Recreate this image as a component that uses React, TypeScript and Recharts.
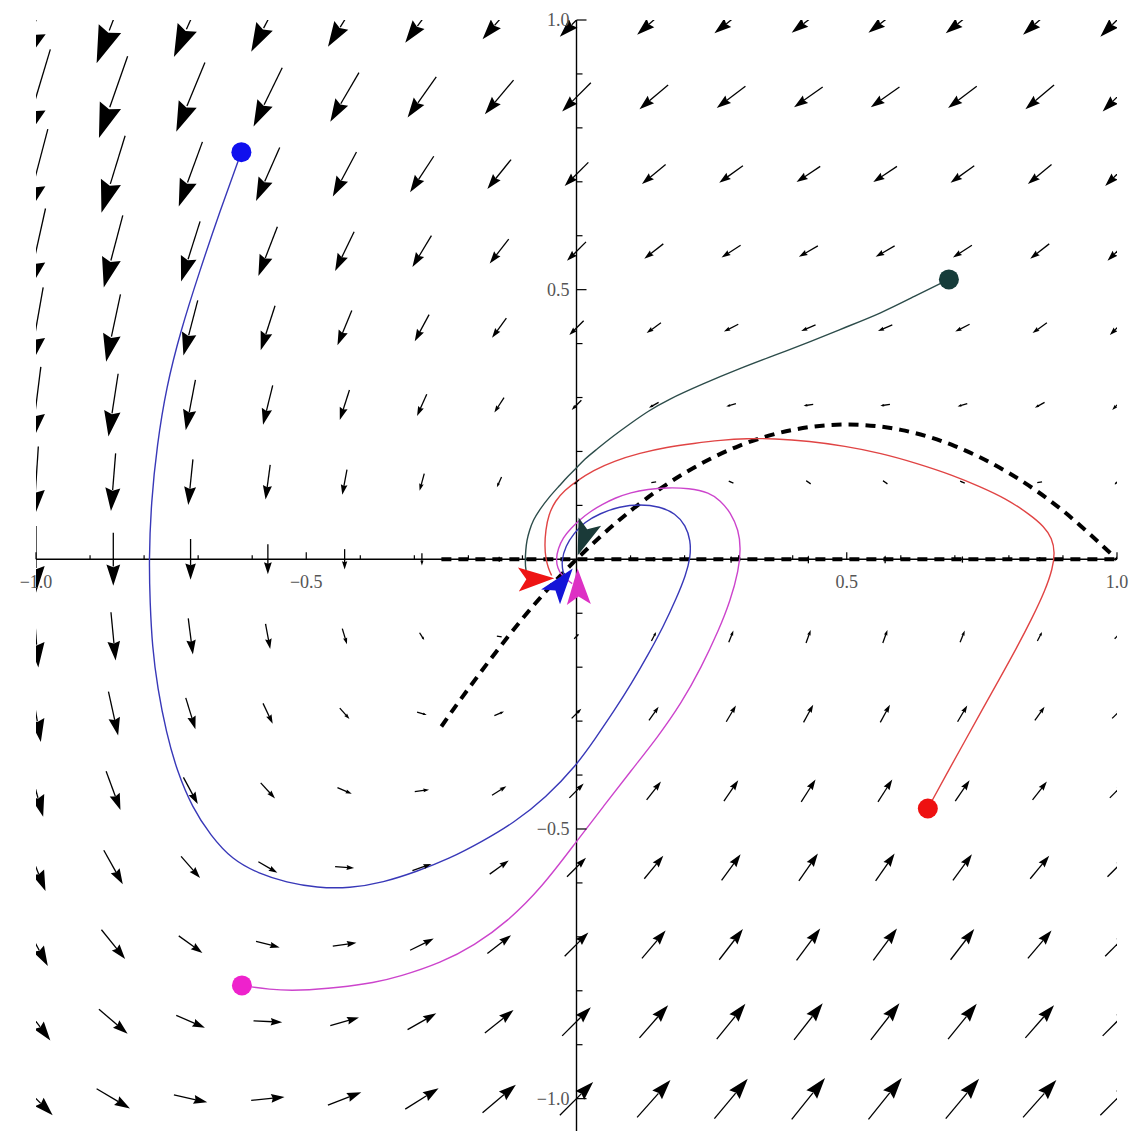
import React from 'react';
import { ComposedChart, XAxis, YAxis, Line, Scatter } from 'recharts';

// grid of sample points (both axes)
const GRID = [-1, -0.857, -0.714, -0.571, -0.429, -0.286, -0.143, 0, 0.143, 0.286, 0.429, 0.571, 0.714, 0.857, 1];

// horizontal field component, one value per row (row 0 = y=-1 ... row 14 = y=1)
const FIELD_U_BY_ROW = [1.0, 0.86, 0.71, 0.57, 0.43, 0.29, 0.14, 0, -0.14, -0.29, -0.43, -0.57, -0.71, -0.86, -1.0];

// vertical field component, rows bottom (y=-1) to top (y=1), columns x=-1..1
const FIELD_V_ROW0 = [-1.0, -0.59, -0.22, 0.1, 0.39, 0.63, 0.84, 1.0, 1.12, 1.2, 1.24, 1.24, 1.2, 1.12, 1.0];
const FIELD_V_ROW1 = [-1.14, -0.73, -0.37, -0.04, 0.24, 0.49, 0.69, 0.86, 0.98, 1.06, 1.1, 1.1, 1.06, 0.98, 0.86];
const FIELD_V_ROW2 = [-1.29, -0.88, -0.51, -0.18, 0.1, 0.35, 0.55, 0.71, 0.84, 0.92, 0.96, 0.96, 0.92, 0.84, 0.71];
const FIELD_V_ROW3 = [-1.43, -1.02, -0.65, -0.33, -0.04, 0.2, 0.41, 0.57, 0.69, 0.78, 0.82, 0.82, 0.78, 0.69, 0.57];
const FIELD_V_ROW4 = [-1.57, -1.16, -0.8, -0.47, -0.18, 0.06, 0.27, 0.43, 0.55, 0.63, 0.67, 0.67, 0.63, 0.55, 0.43];
const FIELD_V_ROW5 = [-1.71, -1.31, -0.94, -0.61, -0.33, -0.08, 0.12, 0.29, 0.41, 0.49, 0.53, 0.53, 0.49, 0.41, 0.29];
const FIELD_V_ROW6 = [-1.86, -1.45, -1.08, -0.76, -0.47, -0.22, -0.02, 0.14, 0.27, 0.35, 0.39, 0.39, 0.35, 0.27, 0.14];
const FIELD_V_ROW7 = [-2.0, -1.59, -1.22, -0.9, -0.61, -0.37, -0.16, 0.0, 0.12, 0.2, 0.24, 0.24, 0.2, 0.12, 0.0];
const FIELD_V_ROW8 = [-2.14, -1.73, -1.37, -1.04, -0.76, -0.51, -0.31, -0.14, -0.02, 0.06, 0.1, 0.1, 0.06, -0.02, -0.14];
const FIELD_V_ROW9 = [-2.29, -1.88, -1.51, -1.18, -0.9, -0.65, -0.45, -0.29, -0.16, -0.08, -0.04, -0.04, -0.08, -0.16, -0.29];
const FIELD_V_ROW10 = [-2.43, -2.02, -1.65, -1.33, -1.04, -0.8, -0.59, -0.43, -0.31, -0.22, -0.18, -0.18, -0.22, -0.31, -0.43];
const FIELD_V_ROW11 = [-2.57, -2.16, -1.8, -1.47, -1.18, -0.94, -0.73, -0.57, -0.45, -0.37, -0.33, -0.33, -0.37, -0.45, -0.57];
const FIELD_V_ROW12 = [-2.71, -2.31, -1.94, -1.61, -1.33, -1.08, -0.88, -0.71, -0.59, -0.51, -0.47, -0.47, -0.51, -0.59, -0.71];
const FIELD_V_ROW13 = [-2.86, -2.45, -2.08, -1.76, -1.47, -1.22, -1.02, -0.86, -0.73, -0.65, -0.61, -0.61, -0.65, -0.73, -0.86];
const FIELD_V_ROW14 = [-3.0, -2.59, -2.22, -1.9, -1.61, -1.37, -1.16, -1.0, -0.88, -0.8, -0.76, -0.76, -0.8, -0.88, -1.0];
const FIELD_V_ROWS = [
  FIELD_V_ROW0, FIELD_V_ROW1, FIELD_V_ROW2, FIELD_V_ROW3, FIELD_V_ROW4, FIELD_V_ROW5, FIELD_V_ROW6, FIELD_V_ROW7,
  FIELD_V_ROW8, FIELD_V_ROW9, FIELD_V_ROW10, FIELD_V_ROW11, FIELD_V_ROW12, FIELD_V_ROW13, FIELD_V_ROW14,
];

// trajectories [x, y]
const BLUE_PATH = [
  [-0.62, 0.755], [-0.66, 0.645], [-0.698, 0.532], [-0.732, 0.425], [-0.759, 0.319], [-0.776, 0.212],
  [-0.787, 0.106], [-0.791, -0.002], [-0.789, -0.08], [-0.785, -0.161], [-0.775, -0.24], [-0.759, -0.321],
  [-0.739, -0.393], [-0.711, -0.46], [-0.677, -0.512], [-0.637, -0.557], [-0.587, -0.583], [-0.537, -0.599],
  [-0.48, -0.609], [-0.42, -0.61], [-0.357, -0.599], [-0.296, -0.579], [-0.235, -0.555], [-0.174, -0.523],
  [-0.115, -0.488], [-0.057, -0.442], [0.0, -0.382], [0.035, -0.332], [0.069, -0.282], [0.102, -0.23],
  [0.133, -0.176], [0.161, -0.124], [0.185, -0.072], [0.202, -0.03], [0.211, 0.004], [0.211, 0.035],
  [0.202, 0.063], [0.183, 0.085], [0.154, 0.098], [0.117, 0.102], [0.08, 0.098], [0.043, 0.085],
  [0.015, 0.069], [-0.005, 0.048], [-0.02, 0.025], [-0.028, -0.003], [-0.025, -0.025], [-0.02, -0.035],
];
const MAGENTA_PATH = [
  [-0.619, -0.79], [-0.569, -0.798], [-0.513, -0.8], [-0.439, -0.794], [-0.374, -0.785], [-0.328, -0.774],
  [-0.25, -0.748], [-0.189, -0.716], [-0.128, -0.672], [-0.063, -0.607], [0.0, -0.523], [0.05, -0.458],
  [0.1, -0.393], [0.15, -0.33], [0.194, -0.267], [0.231, -0.2], [0.263, -0.132], [0.285, -0.076],
  [0.3, -0.02], [0.304, 0.02], [0.3, 0.054], [0.285, 0.087], [0.266, 0.109], [0.246, 0.124], [0.208, 0.132],
  [0.167, 0.133], [0.132, 0.13], [0.1, 0.124], [0.072, 0.114], [0.048, 0.102], [0.026, 0.089], [0.007, 0.074],
  [-0.01, 0.058], [-0.025, 0.04], [-0.034, 0.02], [-0.038, 0.0], [-0.035, -0.016], [-0.028, -0.03],
  [-0.008, -0.045],
];
const RED_PATH = [
  [0.65, -0.462], [0.683, -0.401], [0.717, -0.34], [0.75, -0.28], [0.783, -0.221], [0.815, -0.163],
  [0.843, -0.109], [0.867, -0.058], [0.881, -0.017], [0.885, 0.013], [0.88, 0.039], [0.865, 0.061],
  [0.839, 0.083], [0.794, 0.113], [0.746, 0.135], [0.696, 0.156], [0.63, 0.178], [0.563, 0.197], [0.496, 0.21],
  [0.431, 0.219], [0.365, 0.224], [0.315, 0.224], [0.267, 0.221], [0.217, 0.215], [0.167, 0.208], [0.117, 0.197],
  [0.069, 0.182], [0.031, 0.165], [0.0, 0.145], [-0.022, 0.128], [-0.039, 0.109], [-0.052, 0.082],
  [-0.057, 0.054], [-0.059, 0.026], [-0.057, 0.002], [-0.052, -0.017], [-0.046, -0.03],
];
const TEAL_PATH = [
  [0.689, 0.519], [0.626, 0.488], [0.563, 0.456], [0.497, 0.43], [0.431, 0.403], [0.366, 0.378], [0.3, 0.353],
  [0.233, 0.325], [0.167, 0.295], [0.133, 0.275], [0.1, 0.252], [0.067, 0.228], [0.035, 0.202], [0.015, 0.186],
  [-0.002, 0.167], [-0.017, 0.153], [-0.031, 0.137], [-0.052, 0.114], [-0.069, 0.091], [-0.08, 0.073],
  [-0.087, 0.054], [-0.092, 0.035], [-0.094, 0.017], [-0.095, -0.003], [-0.094, -0.02], [-0.09, -0.035],
];

// nullclines
const NULL_X = [-0.25, -0.2, -0.1, 0, 0.1, 0.2, 0.3, 0.4, 0.5, 0.6, 0.7, 0.8, 0.9, 1.0];
const NULL_Y = [-0.31, -0.24, -0.11, 0, 0.09, 0.16, 0.21, 0.24, 0.25, 0.24, 0.21, 0.16, 0.09, 0];
const AXIS_NULL = [[-0.25, 0], [1.0, 0]];

// arrowheads at trajectory ends: tip x, tip y, direction (degrees)
const HEADS = [
  { x: -0.041, y: -0.035, angle: 2, key: 'red' },
  { x: -0.007, y: -0.017, angle: 52, key: 'blue' },
  { x: 0.002, y: -0.017, angle: 92, key: 'magenta' },
  { x: 0.002, y: 0.007, angle: 250, key: 'teal' },
];
// starting points
const STARTS = [
  { x: -0.62, y: 0.755, key: 'blue' },
  { x: -0.619, y: -0.79, key: 'magenta' },
  { x: 0.65, y: -0.462, key: 'red' },
  { x: 0.689, y: 0.519, key: 'teal' },
];

// ticks and labels
const TICKS = [-1, -0.9, -0.8, -0.7, -0.6, -0.5, -0.4, -0.3, -0.2, -0.1, 0.1, 0.2, 0.3, 0.4, 0.5, 0.6, 0.7, 0.8, 0.9, 1];
const LABEL_VALUES = [-1, -0.5, 0.5, 1];
const LABEL_TEXT = ['\u22121.0', '\u22120.5', '0.5', '1.0'];

// ---------- styling / layout ----------
const W = 1130;
const H = 1131;
const MARGIN = { top: 20, right: 13, bottom: 0, left: 36 };
const PX_PER_UNIT = (W - MARGIN.left - MARGIN.right) / 2;
const ARROW_SCALE = 0.0617;

const COLORS: Record<string, { line: string; dot: string; head: string }> = {
  blue: { line: '#3838b8', dot: '#1010ee', head: '#1414d8' },
  magenta: { line: '#cc44cc', dot: '#ee22cc', head: '#dd30c4' },
  red: { line: '#e04444', dot: '#ee1111', head: '#ee1414' },
  teal: { line: '#2c4c4a', dot: '#163c3a', head: '#1a3a38' },
};

const toPts = (arr: number[][]) => arr.map(([x, y]) => ({ x, y }));

const fieldData: { x: number; y: number; u: number; v: number }[] = [];
FIELD_V_ROWS.forEach((row, j) => {
  row.forEach((v, k) => {
    fieldData.push({ x: GRID[k], y: GRID[j], u: FIELD_U_BY_ROW[j], v });
  });
});
const nullCurve = NULL_X.map((x, i) => ({ x, y: NULL_Y[i] }));
const xTickData = TICKS.map((x) => ({ x, y: 0, major: LABEL_VALUES.includes(x) }));
const yTickData = TICKS.map((y) => ({ x: 0, y, major: LABEL_VALUES.includes(y) }));
const xLabelData = LABEL_VALUES.map((x, i) => ({ x, y: 0, t: LABEL_TEXT[i] }));
const yLabelData = LABEL_VALUES.map((y, i) => ({ x: 0, y, t: LABEL_TEXT[i] }));

function FieldArrow(props: any) {
  const { cx, cy, payload } = props;
  if (cx == null || cy == null) return <g />;
  const k = ARROW_SCALE * PX_PER_UNIT;
  const dx = payload.u * k;
  const dy = -payload.v * k;
  const L = Math.hypot(dx, dy);
  if (L < 1) return <g />;
  const ux = dx / L;
  const uy = dy / L;
  const x1 = cx - dx / 2;
  const y1 = cy - dy / 2;
  const x2 = cx + dx / 2;
  const y2 = cy + dy / 2;
  const hl = 0.4 * L;
  const hw = 0.13 * L;
  const bx = x2 - ux * hl;
  const by = y2 - uy * hl;
  const px = -uy;
  const py = ux;
  return (
    <g>
      <line x1={x1} y1={y1} x2={bx + ux * 2} y2={by + uy * 2} stroke="#000" strokeWidth={1.3} />
      <polygon
        points={`${x2},${y2} ${bx + px * hw},${by + py * hw} ${bx + ux * hl * 0.12},${by + uy * hl * 0.12} ${bx - px * hw},${by - py * hw}`}
        fill="#000"
      />
    </g>
  );
}

function HeadShape(props: any) {
  const { cx, cy, payload } = props;
  if (cx == null) return <g />;
  const a = (payload.angle * Math.PI) / 180;
  const ux = Math.cos(a);
  const uy = -Math.sin(a);
  const len = 36;
  const hw = 12;
  const bx = cx - ux * len;
  const by = cy - uy * len;
  const px = -uy;
  const py = ux;
  const nx = bx + ux * 8;
  const ny = by + uy * 8;
  return (
    <polygon
      points={`${cx},${cy} ${bx + px * hw},${by + py * hw} ${nx},${ny} ${bx - px * hw},${by - py * hw}`}
      fill={COLORS[payload.key].head}
    />
  );
}

function DotShape(props: any) {
  const { cx, cy, payload } = props;
  if (cx == null) return <g />;
  return <circle cx={cx} cy={cy} r={10} fill={COLORS[payload.key].dot} />;
}

function XTick(props: any) {
  const { cx, cy, payload } = props;
  if (cx == null) return <g />;
  const len = payload.major ? 7 : 4;
  return <line x1={cx} y1={cy} x2={cx} y2={cy - len} stroke="#000" strokeWidth={1.2} />;
}
function YTick(props: any) {
  const { cx, cy, payload } = props;
  if (cx == null) return <g />;
  const len = payload.major ? 10 : 6;
  return <line x1={cx} y1={cy} x2={cx + len} y2={cy} stroke="#000" strokeWidth={1.2} />;
}
function XLabel(props: any) {
  const { cx, cy, payload } = props;
  if (cx == null) return <g />;
  return (
    <text x={cx} y={cy + 29} textAnchor="middle" fontFamily="Liberation Serif, serif" fontSize={18} fill="#555">
      {payload.t}
    </text>
  );
}
function YLabel(props: any) {
  const { cx, cy, payload } = props;
  if (cx == null) return <g />;
  return (
    <text x={cx - 7} y={cy + 6} textAnchor="end" fontFamily="Liberation Serif, serif" fontSize={18} fill="#555">
      {payload.t}
    </text>
  );
}

export default function App() {
  return (
    <div style={{ position: 'absolute', left: 0, top: 0, width: W, height: H, background: '#fff' }}>
      <ComposedChart width={W} height={H} margin={MARGIN}>
        <XAxis xAxisId="p" dataKey="x" type="number" domain={[-1, 1]} allowDataOverflow hide />
        <YAxis yAxisId="p" dataKey="y" type="number" domain={[-1.06, 1]} allowDataOverflow hide />
        <XAxis xAxisId="l" dataKey="x" type="number" domain={[-1, 1]} hide />
        <YAxis yAxisId="l" dataKey="y" type="number" domain={[-1.06, 1]} hide />

        <Scatter xAxisId="p" yAxisId="p" data={fieldData} dataKey="y" shape={FieldArrow} isAnimationActive={false} />

        <Line xAxisId="l" yAxisId="l" data={[{ x: -1, y: 0 }, { x: 1, y: 0 }]} dataKey="y" type="linear" stroke="#000" strokeWidth={1.4} dot={false} isAnimationActive={false} />
        <Line xAxisId="l" yAxisId="l" data={[{ x: 0, y: 1 }, { x: 0, y: -1.06 }]} dataKey="y" type="linear" stroke="#000" strokeWidth={1.4} dot={false} isAnimationActive={false} />
        <Scatter xAxisId="l" yAxisId="l" data={xTickData} dataKey="y" shape={XTick} isAnimationActive={false} />
        <Scatter xAxisId="l" yAxisId="l" data={yTickData} dataKey="y" shape={YTick} isAnimationActive={false} />

        <Line xAxisId="p" yAxisId="p" data={toPts(AXIS_NULL)} dataKey="y" type="linear" stroke="#000" strokeWidth={4} strokeDasharray="10 7" dot={false} isAnimationActive={false} />
        <Line xAxisId="p" yAxisId="p" data={nullCurve} dataKey="y" type="natural" stroke="#000" strokeWidth={4} strokeDasharray="10 7" dot={false} isAnimationActive={false} />

        <Line xAxisId="p" yAxisId="p" data={toPts(TEAL_PATH)} dataKey="y" type="basis" stroke={COLORS.teal.line} strokeWidth={1.4} dot={false} isAnimationActive={false} />
        <Line xAxisId="p" yAxisId="p" data={toPts(RED_PATH)} dataKey="y" type="basis" stroke={COLORS.red.line} strokeWidth={1.4} dot={false} isAnimationActive={false} />
        <Line xAxisId="p" yAxisId="p" data={toPts(MAGENTA_PATH)} dataKey="y" type="basis" stroke={COLORS.magenta.line} strokeWidth={1.4} dot={false} isAnimationActive={false} />
        <Line xAxisId="p" yAxisId="p" data={toPts(BLUE_PATH)} dataKey="y" type="basis" stroke={COLORS.blue.line} strokeWidth={1.4} dot={false} isAnimationActive={false} />

        <Scatter xAxisId="p" yAxisId="p" data={HEADS} dataKey="y" shape={HeadShape} isAnimationActive={false} />
        <Scatter xAxisId="p" yAxisId="p" data={STARTS} dataKey="y" shape={DotShape} isAnimationActive={false} />

        <Scatter xAxisId="l" yAxisId="l" data={xLabelData} dataKey="y" shape={XLabel} isAnimationActive={false} />
        <Scatter xAxisId="l" yAxisId="l" data={yLabelData} dataKey="y" shape={YLabel} isAnimationActive={false} />
      </ComposedChart>
    </div>
  );
}
